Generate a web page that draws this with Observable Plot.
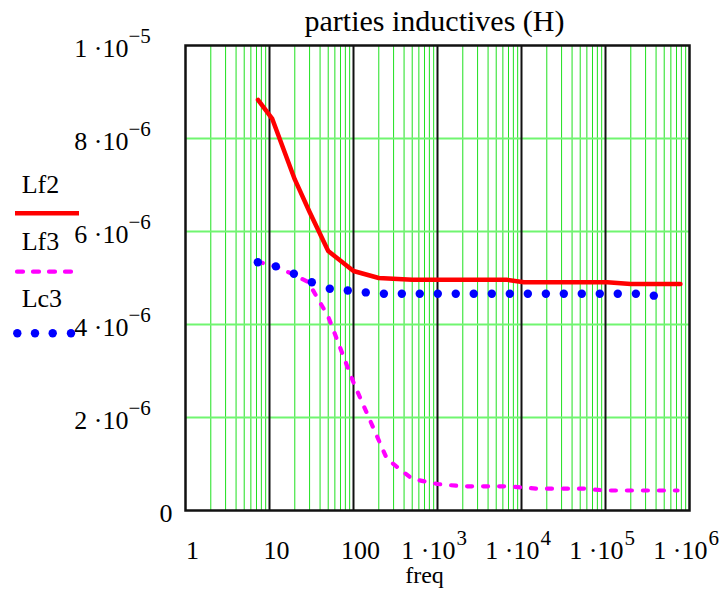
<!DOCTYPE html>
<html><head><meta charset="utf-8">
<script src="https://cdn.jsdelivr.net/npm/d3@7"></script>
<script src="https://cdn.jsdelivr.net/npm/@observablehq/plot@0.6"></script>
<style>
body{margin:0;background:#fff;}
#chart{position:relative;width:721px;height:590px;}
</style>
</head><body><div id="chart"></div>
<script>
// ---- data ----
const freqLf2 = [7.3, 10.8, 20, 30, 50, 100, 200, 500, 6800, 10700, 105000, 200000, 780000];
const Lf2 = [8.83e-6, 8.42e-6, 7.12e-6, 6.42e-6, 5.58e-6, 5.15e-6, 5.00e-6, 4.96e-6, 4.96e-6, 4.91e-6, 4.91e-6, 4.87e-6, 4.87e-6];

const freqLf3 = [7.3, 11.9, 19.5, 29, 50, 100, 250, 500, 1000, 2000, 7000, 15000, 55000, 100000, 720000];
const Lf3 = [5.35e-6, 5.25e-6, 5.07e-6, 4.91e-6, 4.17e-6, 2.75e-6, 1.11e-6, 0.68e-6, 0.57e-6, 0.52e-6, 0.52e-6, 0.47e-6, 0.47e-6, 0.43e-6, 0.43e-6];

const freqLc3 = [7.26, 11.9, 19.5, 31.9, 52.2, 85.5, 140, 230, 376, 615, 1008, 1650, 2700, 4430, 7260, 11900, 19500, 31900, 52200, 85500, 140000, 230000, 376000];
const Lc3 = [5.34e-6, 5.25e-6, 5.09e-6, 4.91e-6, 4.77e-6, 4.73e-6, 4.69e-6, 4.66e-6, 4.66e-6, 4.66e-6, 4.66e-6, 4.66e-6, 4.66e-6, 4.66e-6, 4.66e-6, 4.66e-6, 4.66e-6, 4.66e-6, 4.66e-6, 4.66e-6, 4.66e-6, 4.66e-6, 4.62e-6];

const xTicks = [1, 10, 100, 1e3, 1e4, 1e5, 1e6];
const xTickBase = ["1", "10", "100", "1 ·10", "1 ·10", "1 ·10", "1 ·10"];
const xTickExp = ["", "", "", "3", "4", "5", "6"];

const yTicks = [0, 2e-6, 4e-6, 6e-6, 8e-6, 1e-5];
const yTickBase = ["0", "2 ·10", "4 ·10", "6 ·10", "8 ·10", "1 ·10"];
const yTickExp = ["", "\u22126", "\u22126", "\u22126", "\u22126", "\u22125"];

const seriesNames = ["Lf2", "Lf3", "Lc3"];
const titleText = "parties inductives (H)";
const xLabel = "freq";

// ---- tables ----
const lf2Data = freqLf2.map((f, i) => ({f, v: Lf2[i]}));
const lf3Data = freqLf3.map((f, i) => ({f, v: Lf3[i]}));
const lc3Data = freqLc3.map((f, i) => ({f, v: Lc3[i]}));
const xLab = xTicks.map((t, i) => ({t, base: xTickBase[i], exp: xTickExp[i]}));
const yLab = yTicks.map((t, i) => ({t, base: yTickBase[i], exp: yTickExp[i]}));

const decades = xTicks.slice(1, -1);
const minor = [];
for (let k = 0; k < 6; k++) for (let m = 2; m <= 9; m++) minor.push(m * Math.pow(10, k));
const gridY = yTicks.slice(1, -1);

const FONT = "'Liberation Serif', 'Times New Roman', serif";

const plot = Plot.plot({
  width: 721, height: 590,
  marginLeft: 185, marginRight: 32, marginTop: 45, marginBottom: 80,
  x: {type: "log", domain: [1, 1e6], axis: null},
  y: {domain: [0, 1e-5], axis: null},
  style: {fontFamily: FONT, background: "white", color: "black"},
  marks: [
    Plot.ruleX(minor, {stroke: "#1fe01f", strokeWidth: 1}),
    Plot.ruleY(gridY, {stroke: "#70f570", strokeWidth: 2}),
    Plot.ruleX(decades, {stroke: "#111", strokeWidth: 2}),
    Plot.frame({stroke: "#111", strokeWidth: 2.5}),
    Plot.line(lf3Data, {x: "f", y: "v", stroke: "#ff00ff", strokeWidth: 4.2, strokeDasharray: "5,11", strokeLinecap: "round", strokeLinejoin: "round"}),
    Plot.line(lf2Data, {x: "f", y: "v", stroke: "#ff0000", strokeWidth: 4.5, strokeLinejoin: "round"}),
    Plot.dot(lc3Data, {x: "f", y: "v", r: 4.2, fill: "#0000ff", stroke: "none"}),
    // y tick labels
    Plot.text(yLab, {y: "t", text: "base", frameAnchor: "left", lineAnchor: "middle", textAnchor: "end", fontSize: 26,
      dx: -57, dy: 3, filter: d => d.t !== 0}),
    Plot.text(yLab, {y: "t", text: "base", frameAnchor: "left", lineAnchor: "middle", textAnchor: "end", fontSize: 26,
      dx: -13, dy: 3, filter: d => d.t === 0}),
    Plot.text(yLab, {y: "t", text: "exp", frameAnchor: "left", lineAnchor: "middle", textAnchor: "start", fontSize: 21,
      dx: -57, dy: -9, filter: d => d.t !== 0}),
    // x tick labels
    Plot.text(xLab, {x: "t", text: "base", frameAnchor: "bottom", lineAnchor: "middle", textAnchor: "middle", fontSize: 26,
      dx: 7, dy: 40, filter: d => d.exp === ""}),
    Plot.text(xLab, {x: "t", text: "base", frameAnchor: "bottom", lineAnchor: "middle", textAnchor: "end", fontSize: 26,
      dx: 18, dy: 40, filter: d => d.exp !== ""}),
    Plot.text(xLab, {x: "t", text: "exp", frameAnchor: "bottom", lineAnchor: "middle", textAnchor: "start", fontSize: 21,
      dx: 19, dy: 28, filter: d => d.exp !== ""}),
    // axis label & title
    Plot.text([xLabel], {frameAnchor: "bottom", lineAnchor: "middle", text: d => d, fontSize: 24, dx: -13, dy: 65}),
    Plot.text([titleText], {frameAnchor: "top", lineAnchor: "middle", text: d => d, fontSize: 30, dx: -3, dy: -24})
  ]
});

// ---- legend (left side) ----
const svg = d3.select(plot);
const lg = svg.append("g").attr("font-family", FONT).attr("font-size", 26).attr("fill", "black").attr("text-anchor", "start");
const rows = [
  {name: seriesNames[0], ty: 192.7, ly: 213.3},
  {name: seriesNames[1], ty: 250, ly: 271.7},
  {name: seriesNames[2], ty: 306.7, ly: 333.3}
];
rows.forEach(r => lg.append("text").attr("x", 21.7).attr("y", r.ty).attr("text-anchor", "start").text(r.name));
lg.append("line").attr("x1", 15).attr("x2", 79).attr("y1", rows[0].ly).attr("y2", rows[0].ly)
  .attr("stroke", "#ff0000").attr("stroke-width", 4.5);
lg.append("line").attr("x1", 17).attr("x2", 72).attr("y1", rows[1].ly).attr("y2", rows[1].ly)
  .attr("stroke", "#ff00ff").attr("stroke-width", 4.2).attr("stroke-dasharray", "6,10").attr("stroke-linecap", "round");
[17.3, 35, 52.7, 71].forEach(cx => lg.append("circle").attr("cx", cx).attr("cy", rows[2].ly).attr("r", 4.2).attr("fill", "#0000ff"));

document.getElementById("chart").appendChild(plot);
</script>
</body></html>
